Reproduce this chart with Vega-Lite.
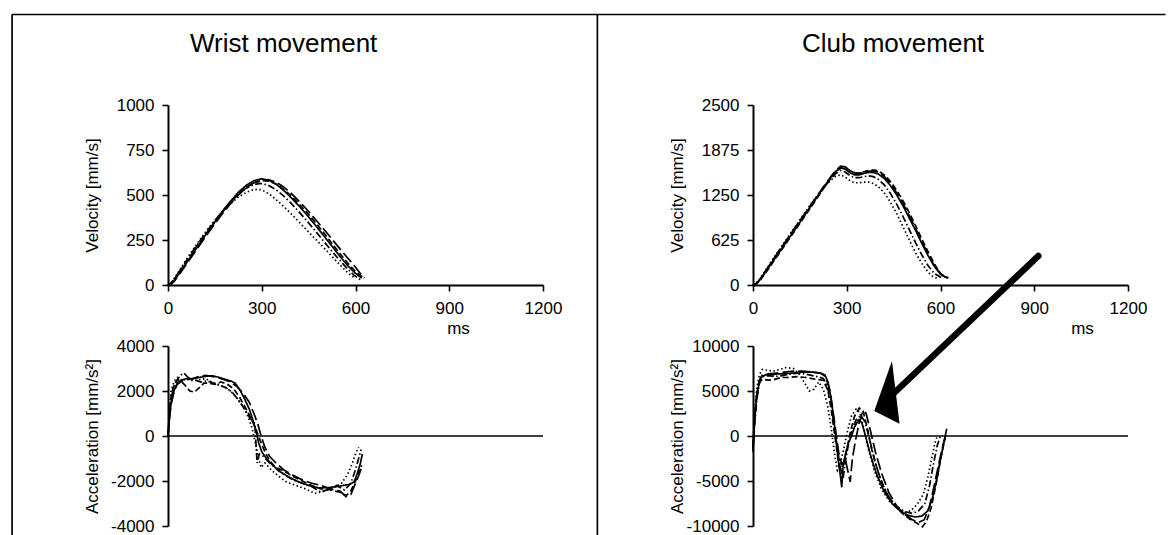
{
"$schema": "https://vega.github.io/schema/vega-lite/v6.json",
"padding": {"left": 11, "top": 13, "right": 0, "bottom": 0},
"background": "white",
"bounds": "flush",
"columns": 2,
"spacing": {"row": 61, "column": 210},
"resolve": {"scale": {"x": "independent", "y": "independent"}},
"datasets": {
"wv": [
{"s":"a","t":0,"v":0},{"s":"a","t":10,"v":8},{"s":"a","t":20,"v":25},{"s":"a","t":40,"v":75},{"s":"a","t":60,"v":125},{"s":"a","t":80,"v":175},{"s":"a","t":100,"v":228},{"s":"a","t":125,"v":290},{"s":"a","t":150,"v":350},{"s":"a","t":175,"v":410},{"s":"a","t":200,"v":465},{"s":"a","t":225,"v":515},{"s":"a","t":250,"v":553},{"s":"a","t":275,"v":580},{"s":"a","t":300,"v":590},{"s":"a","t":325,"v":580},{"s":"a","t":350,"v":555},{"s":"a","t":375,"v":518},{"s":"a","t":400,"v":475},{"s":"a","t":425,"v":428},{"s":"a","t":450,"v":378},{"s":"a","t":475,"v":325},{"s":"a","t":500,"v":270},{"s":"a","t":525,"v":215},{"s":"a","t":550,"v":160},{"s":"a","t":575,"v":108},{"s":"a","t":600,"v":65},{"s":"a","t":620,"v":38},
{"s":"b","t":0,"v":0},{"s":"b","t":10,"v":10},{"s":"b","t":20,"v":30},{"s":"b","t":40,"v":82},{"s":"b","t":60,"v":132},{"s":"b","t":80,"v":182},{"s":"b","t":100,"v":232},{"s":"b","t":125,"v":292},{"s":"b","t":150,"v":350},{"s":"b","t":175,"v":406},{"s":"b","t":200,"v":458},{"s":"b","t":225,"v":505},{"s":"b","t":250,"v":543},{"s":"b","t":275,"v":568},{"s":"b","t":300,"v":580},{"s":"b","t":325,"v":576},{"s":"b","t":350,"v":558},{"s":"b","t":375,"v":525},{"s":"b","t":400,"v":485},{"s":"b","t":425,"v":440},{"s":"b","t":450,"v":392},{"s":"b","t":475,"v":340},{"s":"b","t":500,"v":286},{"s":"b","t":525,"v":230},{"s":"b","t":550,"v":175},{"s":"b","t":575,"v":122},{"s":"b","t":600,"v":75},{"s":"b","t":625,"v":40},
{"s":"c","t":0,"v":0},{"s":"c","t":10,"v":14},{"s":"c","t":20,"v":36},{"s":"c","t":40,"v":90},{"s":"c","t":60,"v":145},{"s":"c","t":80,"v":197},{"s":"c","t":100,"v":247},{"s":"c","t":125,"v":305},{"s":"c","t":150,"v":360},{"s":"c","t":175,"v":410},{"s":"c","t":200,"v":452},{"s":"c","t":225,"v":488},{"s":"c","t":250,"v":514},{"s":"c","t":270,"v":528},{"s":"c","t":290,"v":532},{"s":"c","t":310,"v":520},{"s":"c","t":330,"v":497},{"s":"c","t":350,"v":468},{"s":"c","t":375,"v":428},{"s":"c","t":400,"v":385},{"s":"c","t":425,"v":340},{"s":"c","t":450,"v":294},{"s":"c","t":475,"v":250},{"s":"c","t":500,"v":205},{"s":"c","t":525,"v":158},{"s":"c","t":550,"v":112},{"s":"c","t":575,"v":68},{"s":"c","t":600,"v":35},
{"s":"d","t":0,"v":0},{"s":"d","t":10,"v":12},{"s":"d","t":20,"v":33},{"s":"d","t":40,"v":85},{"s":"d","t":60,"v":138},{"s":"d","t":80,"v":190},{"s":"d","t":100,"v":240},{"s":"d","t":125,"v":300},{"s":"d","t":150,"v":358},{"s":"d","t":175,"v":412},{"s":"d","t":200,"v":462},{"s":"d","t":225,"v":505},{"s":"d","t":250,"v":538},{"s":"d","t":275,"v":558},{"s":"d","t":295,"v":565},{"s":"d","t":320,"v":555},{"s":"d","t":345,"v":530},{"s":"d","t":370,"v":495},{"s":"d","t":395,"v":452},{"s":"d","t":420,"v":405},{"s":"d","t":445,"v":355},{"s":"d","t":470,"v":303},{"s":"d","t":495,"v":250},{"s":"d","t":520,"v":197},{"s":"d","t":545,"v":146},{"s":"d","t":570,"v":98},{"s":"d","t":595,"v":55},{"s":"d","t":615,"v":30},
{"s":"e","t":0,"v":0},{"s":"e","t":10,"v":6},{"s":"e","t":20,"v":20},{"s":"e","t":40,"v":68},{"s":"e","t":60,"v":118},{"s":"e","t":80,"v":168},{"s":"e","t":100,"v":218},{"s":"e","t":125,"v":280},{"s":"e","t":150,"v":340},{"s":"e","t":175,"v":398},{"s":"e","t":200,"v":452},{"s":"e","t":225,"v":500},{"s":"e","t":250,"v":540},{"s":"e","t":275,"v":568},{"s":"e","t":300,"v":583},{"s":"e","t":320,"v":585},{"s":"e","t":345,"v":572},{"s":"e","t":370,"v":545},{"s":"e","t":395,"v":508},{"s":"e","t":420,"v":465},{"s":"e","t":445,"v":418},{"s":"e","t":470,"v":368},{"s":"e","t":495,"v":317},{"s":"e","t":520,"v":265},{"s":"e","t":545,"v":212},{"s":"e","t":570,"v":160},{"s":"e","t":595,"v":110},{"s":"e","t":615,"v":65},{"s":"e","t":628,"v":38}
],
"cv": [
{"s":"a","t":0,"v":0},{"s":"a","t":10,"v":20},{"s":"a","t":20,"v":60},{"s":"a","t":40,"v":180},{"s":"a","t":60,"v":305},{"s":"a","t":80,"v":430},{"s":"a","t":100,"v":555},{"s":"a","t":125,"v":712},{"s":"a","t":150,"v":870},{"s":"a","t":175,"v":1030},{"s":"a","t":200,"v":1190},{"s":"a","t":225,"v":1350},{"s":"a","t":250,"v":1500},{"s":"a","t":265,"v":1580},{"s":"a","t":280,"v":1625},{"s":"a","t":295,"v":1610},{"s":"a","t":310,"v":1560},{"s":"a","t":325,"v":1530},{"s":"a","t":340,"v":1530},{"s":"a","t":355,"v":1550},{"s":"a","t":370,"v":1565},{"s":"a","t":385,"v":1562},{"s":"a","t":400,"v":1545},{"s":"a","t":420,"v":1480},{"s":"a","t":440,"v":1380},{"s":"a","t":460,"v":1250},{"s":"a","t":480,"v":1100},{"s":"a","t":500,"v":930},{"s":"a","t":520,"v":760},{"s":"a","t":540,"v":580},{"s":"a","t":560,"v":410},{"s":"a","t":580,"v":260},{"s":"a","t":600,"v":150},{"s":"a","t":615,"v":110},{"s":"a","t":625,"v":100},
{"s":"b","t":0,"v":0},{"s":"b","t":10,"v":15},{"s":"b","t":20,"v":50},{"s":"b","t":40,"v":165},{"s":"b","t":60,"v":290},{"s":"b","t":80,"v":415},{"s":"b","t":100,"v":540},{"s":"b","t":125,"v":698},{"s":"b","t":150,"v":856},{"s":"b","t":175,"v":1015},{"s":"b","t":200,"v":1175},{"s":"b","t":225,"v":1335},{"s":"b","t":250,"v":1490},{"s":"b","t":270,"v":1590},{"s":"b","t":285,"v":1640},{"s":"b","t":300,"v":1620},{"s":"b","t":315,"v":1575},{"s":"b","t":330,"v":1555},{"s":"b","t":345,"v":1560},{"s":"b","t":360,"v":1580},{"s":"b","t":375,"v":1595},{"s":"b","t":390,"v":1595},{"s":"b","t":405,"v":1575},{"s":"b","t":425,"v":1510},{"s":"b","t":445,"v":1410},{"s":"b","t":465,"v":1280},{"s":"b","t":485,"v":1130},{"s":"b","t":505,"v":960},{"s":"b","t":525,"v":780},{"s":"b","t":545,"v":595},{"s":"b","t":565,"v":420},{"s":"b","t":585,"v":260},{"s":"b","t":600,"v":160},{"s":"b","t":615,"v":110},{"s":"b","t":625,"v":100},
{"s":"c","t":0,"v":0},{"s":"c","t":10,"v":25},{"s":"c","t":20,"v":75},{"s":"c","t":40,"v":205},{"s":"c","t":60,"v":335},{"s":"c","t":80,"v":465},{"s":"c","t":100,"v":590},{"s":"c","t":125,"v":748},{"s":"c","t":150,"v":905},{"s":"c","t":175,"v":1060},{"s":"c","t":200,"v":1210},{"s":"c","t":225,"v":1350},{"s":"c","t":250,"v":1460},{"s":"c","t":265,"v":1510},{"s":"c","t":280,"v":1530},{"s":"c","t":295,"v":1500},{"s":"c","t":310,"v":1450},{"s":"c","t":325,"v":1420},{"s":"c","t":340,"v":1420},{"s":"c","t":355,"v":1430},{"s":"c","t":370,"v":1430},{"s":"c","t":385,"v":1410},{"s":"c","t":400,"v":1370},{"s":"c","t":420,"v":1280},{"s":"c","t":440,"v":1150},{"s":"c","t":460,"v":990},{"s":"c","t":480,"v":810},{"s":"c","t":500,"v":625},{"s":"c","t":520,"v":450},{"s":"c","t":540,"v":300},{"s":"c","t":560,"v":180},{"s":"c","t":575,"v":120},{"s":"c","t":590,"v":90},
{"s":"d","t":0,"v":0},{"s":"d","t":10,"v":18},{"s":"d","t":20,"v":58},{"s":"d","t":40,"v":185},{"s":"d","t":60,"v":312},{"s":"d","t":80,"v":438},{"s":"d","t":100,"v":562},{"s":"d","t":125,"v":718},{"s":"d","t":150,"v":875},{"s":"d","t":175,"v":1032},{"s":"d","t":200,"v":1190},{"s":"d","t":225,"v":1345},{"s":"d","t":250,"v":1480},{"s":"d","t":265,"v":1550},{"s":"d","t":280,"v":1590},{"s":"d","t":295,"v":1570},{"s":"d","t":310,"v":1520},{"s":"d","t":325,"v":1490},{"s":"d","t":340,"v":1490},{"s":"d","t":355,"v":1505},{"s":"d","t":370,"v":1515},{"s":"d","t":385,"v":1505},{"s":"d","t":400,"v":1470},{"s":"d","t":420,"v":1390},{"s":"d","t":440,"v":1270},{"s":"d","t":460,"v":1120},{"s":"d","t":480,"v":950},{"s":"d","t":500,"v":770},{"s":"d","t":520,"v":590},{"s":"d","t":540,"v":420},{"s":"d","t":560,"v":270},{"s":"d","t":580,"v":160},{"s":"d","t":600,"v":110},{"s":"d","t":610,"v":100},
{"s":"e","t":0,"v":0},{"s":"e","t":10,"v":22},{"s":"e","t":20,"v":65},{"s":"e","t":40,"v":195},{"s":"e","t":60,"v":325},{"s":"e","t":80,"v":455},{"s":"e","t":100,"v":580},{"s":"e","t":125,"v":738},{"s":"e","t":150,"v":895},{"s":"e","t":175,"v":1050},{"s":"e","t":200,"v":1205},{"s":"e","t":225,"v":1360},{"s":"e","t":250,"v":1510},{"s":"e","t":265,"v":1590},{"s":"e","t":280,"v":1650},{"s":"e","t":295,"v":1640},{"s":"e","t":310,"v":1590},{"s":"e","t":325,"v":1555},{"s":"e","t":340,"v":1550},{"s":"e","t":355,"v":1565},{"s":"e","t":370,"v":1580},{"s":"e","t":385,"v":1585},{"s":"e","t":400,"v":1570},{"s":"e","t":420,"v":1510},{"s":"e","t":440,"v":1410},{"s":"e","t":460,"v":1280},{"s":"e","t":480,"v":1130},{"s":"e","t":500,"v":965},{"s":"e","t":520,"v":790},{"s":"e","t":540,"v":605},{"s":"e","t":560,"v":430},{"s":"e","t":580,"v":270},{"s":"e","t":600,"v":160},{"s":"e","t":615,"v":110},{"s":"e","t":625,"v":95}
],
"wa": [
{"s":"a","t":0,"v":0},{"s":"a","t":5,"v":900},{"s":"a","t":10,"v":1500},{"s":"a","t":20,"v":2050},{"s":"a","t":30,"v":2350},{"s":"a","t":45,"v":2500},{"s":"a","t":60,"v":2550},{"s":"a","t":80,"v":2550},{"s":"a","t":100,"v":2600},{"s":"a","t":120,"v":2650},{"s":"a","t":140,"v":2680},{"s":"a","t":160,"v":2620},{"s":"a","t":180,"v":2530},{"s":"a","t":200,"v":2450},{"s":"a","t":215,"v":2350},{"s":"a","t":230,"v":2050},{"s":"a","t":245,"v":1650},{"s":"a","t":260,"v":1200},{"s":"a","t":272,"v":700},{"s":"a","t":282,"v":200},{"s":"a","t":290,"v":-300},{"s":"a","t":300,"v":-700},{"s":"a","t":315,"v":-1000},{"s":"a","t":335,"v":-1300},{"s":"a","t":360,"v":-1600},{"s":"a","t":390,"v":-1850},{"s":"a","t":420,"v":-2050},{"s":"a","t":450,"v":-2200},{"s":"a","t":480,"v":-2300},{"s":"a","t":510,"v":-2300},{"s":"a","t":540,"v":-2250},{"s":"a","t":560,"v":-2200},{"s":"a","t":580,"v":-2150},{"s":"a","t":595,"v":-2050},{"s":"a","t":605,"v":-1700},{"s":"a","t":615,"v":-1250},{"s":"a","t":622,"v":-800},
{"s":"b","t":0,"v":0},{"s":"b","t":5,"v":1100},{"s":"b","t":10,"v":1800},{"s":"b","t":20,"v":2300},{"s":"b","t":30,"v":2500},{"s":"b","t":40,"v":2450},{"s":"b","t":55,"v":2250},{"s":"b","t":70,"v":2000},{"s":"b","t":85,"v":1950},{"s":"b","t":100,"v":2150},{"s":"b","t":115,"v":2350},{"s":"b","t":130,"v":2350},{"s":"b","t":150,"v":2300},{"s":"b","t":170,"v":2400},{"s":"b","t":190,"v":2300},{"s":"b","t":210,"v":2100},{"s":"b","t":230,"v":1700},{"s":"b","t":250,"v":1200},{"s":"b","t":265,"v":800},{"s":"b","t":280,"v":350},{"s":"b","t":295,"v":-200},{"s":"b","t":310,"v":-700},{"s":"b","t":325,"v":-1100},{"s":"b","t":345,"v":-1400},{"s":"b","t":370,"v":-1550},{"s":"b","t":400,"v":-1800},{"s":"b","t":430,"v":-2000},{"s":"b","t":460,"v":-2200},{"s":"b","t":490,"v":-2350},{"s":"b","t":520,"v":-2400},{"s":"b","t":550,"v":-2500},{"s":"b","t":570,"v":-2650},{"s":"b","t":585,"v":-2450},{"s":"b","t":600,"v":-2000},{"s":"b","t":610,"v":-1600},{"s":"b","t":620,"v":-1300},
{"s":"c","t":0,"v":0},{"s":"c","t":5,"v":1300},{"s":"c","t":10,"v":2000},{"s":"c","t":20,"v":2450},{"s":"c","t":30,"v":2600},{"s":"c","t":45,"v":2450},{"s":"c","t":60,"v":2550},{"s":"c","t":80,"v":2450},{"s":"c","t":100,"v":2500},{"s":"c","t":120,"v":2550},{"s":"c","t":140,"v":2400},{"s":"c","t":160,"v":2300},{"s":"c","t":180,"v":2200},{"s":"c","t":200,"v":2000},{"s":"c","t":220,"v":1700},{"s":"c","t":240,"v":1300},{"s":"c","t":255,"v":900},{"s":"c","t":268,"v":400},{"s":"c","t":278,"v":-200},{"s":"c","t":288,"v":-900},{"s":"c","t":298,"v":-1400},{"s":"c","t":310,"v":-1200},{"s":"c","t":330,"v":-1500},{"s":"c","t":355,"v":-1800},{"s":"c","t":380,"v":-2050},{"s":"c","t":410,"v":-2200},{"s":"c","t":440,"v":-2350},{"s":"c","t":470,"v":-2550},{"s":"c","t":500,"v":-2450},{"s":"c","t":530,"v":-2300},{"s":"c","t":555,"v":-2100},{"s":"c","t":575,"v":-1700},{"s":"c","t":590,"v":-1200},{"s":"c","t":600,"v":-800},{"s":"c","t":610,"v":-500},
{"s":"d","t":0,"v":0},{"s":"d","t":5,"v":1000},{"s":"d","t":10,"v":1700},{"s":"d","t":20,"v":2200},{"s":"d","t":30,"v":2500},{"s":"d","t":40,"v":2700},{"s":"d","t":50,"v":2800},{"s":"d","t":65,"v":2600},{"s":"d","t":85,"v":2500},{"s":"d","t":105,"v":2400},{"s":"d","t":125,"v":2450},{"s":"d","t":145,"v":2350},{"s":"d","t":165,"v":2250},{"s":"d","t":185,"v":2150},{"s":"d","t":205,"v":1950},{"s":"d","t":225,"v":1600},{"s":"d","t":245,"v":1200},{"s":"d","t":262,"v":800},{"s":"d","t":278,"v":550},{"s":"d","t":285,"v":-1200},{"s":"d","t":292,"v":-800},{"s":"d","t":305,"v":-900},{"s":"d","t":325,"v":-1200},{"s":"d","t":350,"v":-1500},{"s":"d","t":375,"v":-1750},{"s":"d","t":400,"v":-1950},{"s":"d","t":430,"v":-2100},{"s":"d","t":460,"v":-2250},{"s":"d","t":490,"v":-2500},{"s":"d","t":515,"v":-2350},{"s":"d","t":540,"v":-2200},{"s":"d","t":565,"v":-2400},{"s":"d","t":585,"v":-2100},{"s":"d","t":600,"v":-1500},{"s":"d","t":612,"v":-900},{"s":"d","t":618,"v":-600},
{"s":"e","t":0,"v":0},{"s":"e","t":5,"v":800},{"s":"e","t":10,"v":1400},{"s":"e","t":20,"v":2000},{"s":"e","t":30,"v":2300},{"s":"e","t":45,"v":2450},{"s":"e","t":60,"v":2500},{"s":"e","t":80,"v":2550},{"s":"e","t":100,"v":2650},{"s":"e","t":120,"v":2700},{"s":"e","t":140,"v":2650},{"s":"e","t":160,"v":2600},{"s":"e","t":180,"v":2500},{"s":"e","t":200,"v":2400},{"s":"e","t":220,"v":2200},{"s":"e","t":240,"v":1900},{"s":"e","t":260,"v":1500},{"s":"e","t":275,"v":1000},{"s":"e","t":288,"v":500},{"s":"e","t":298,"v":0},{"s":"e","t":310,"v":-500},{"s":"e","t":325,"v":-900},{"s":"e","t":345,"v":-1200},{"s":"e","t":370,"v":-1500},{"s":"e","t":400,"v":-1750},{"s":"e","t":430,"v":-1950},{"s":"e","t":460,"v":-2100},{"s":"e","t":490,"v":-2200},{"s":"e","t":520,"v":-2350},{"s":"e","t":550,"v":-2450},{"s":"e","t":570,"v":-2700},{"s":"e","t":585,"v":-2600},{"s":"e","t":600,"v":-2100},{"s":"e","t":612,"v":-1700},{"s":"e","t":622,"v":-1300}
],
"ca": [
{"s":"a","t":0,"v":-1500},{"s":"a","t":5,"v":1500},{"s":"a","t":10,"v":3800},{"s":"a","t":18,"v":5600},{"s":"a","t":25,"v":6500},{"s":"a","t":40,"v":6800},{"s":"a","t":60,"v":6800},{"s":"a","t":80,"v":6900},{"s":"a","t":100,"v":6900},{"s":"a","t":130,"v":7000},{"s":"a","t":160,"v":7100},{"s":"a","t":190,"v":7100},{"s":"a","t":215,"v":7000},{"s":"a","t":230,"v":6800},{"s":"a","t":240,"v":6000},{"s":"a","t":250,"v":4200},{"s":"a","t":258,"v":2000},{"s":"a","t":265,"v":0},{"s":"a","t":272,"v":-2500},{"s":"a","t":280,"v":-4500},{"s":"a","t":284,"v":-5700},{"s":"a","t":288,"v":-3500},{"s":"a","t":296,"v":-2000},{"s":"a","t":305,"v":-800},{"s":"a","t":315,"v":0},{"s":"a","t":325,"v":1000},{"s":"a","t":338,"v":1800},{"s":"a","t":348,"v":1500},{"s":"a","t":360,"v":0},{"s":"a","t":375,"v":-2000},{"s":"a","t":395,"v":-4200},{"s":"a","t":420,"v":-6200},{"s":"a","t":445,"v":-7500},{"s":"a","t":470,"v":-8300},{"s":"a","t":495,"v":-8800},{"s":"a","t":520,"v":-9000},{"s":"a","t":540,"v":-8900},{"s":"a","t":560,"v":-8300},{"s":"a","t":575,"v":-6800},{"s":"a","t":590,"v":-4500},{"s":"a","t":600,"v":-2600},{"s":"a","t":612,"v":-500},{"s":"a","t":620,"v":800},
{"s":"b","t":0,"v":-1200},{"s":"b","t":5,"v":2000},{"s":"b","t":12,"v":4500},{"s":"b","t":20,"v":6000},{"s":"b","t":30,"v":6300},{"s":"b","t":50,"v":6200},{"s":"b","t":70,"v":6300},{"s":"b","t":90,"v":6500},{"s":"b","t":110,"v":6500},{"s":"b","t":140,"v":6600},{"s":"b","t":170,"v":6500},{"s":"b","t":200,"v":6300},{"s":"b","t":225,"v":6200},{"s":"b","t":240,"v":5000},{"s":"b","t":250,"v":3000},{"s":"b","t":260,"v":500},{"s":"b","t":270,"v":-2000},{"s":"b","t":278,"v":-3500},{"s":"b","t":290,"v":-3000},{"s":"b","t":300,"v":-1500},{"s":"b","t":312,"v":500},{"s":"b","t":325,"v":2200},{"s":"b","t":340,"v":3100},{"s":"b","t":352,"v":2800},{"s":"b","t":365,"v":1000},{"s":"b","t":380,"v":-1500},{"s":"b","t":400,"v":-4000},{"s":"b","t":425,"v":-6200},{"s":"b","t":450,"v":-7600},{"s":"b","t":475,"v":-8500},{"s":"b","t":500,"v":-9200},{"s":"b","t":525,"v":-9700},{"s":"b","t":542,"v":-10100},{"s":"b","t":555,"v":-9500},{"s":"b","t":570,"v":-8000},{"s":"b","t":585,"v":-5500},{"s":"b","t":598,"v":-3000},{"s":"b","t":610,"v":-1000},{"s":"b","t":618,"v":300},
{"s":"c","t":0,"v":-1000},{"s":"c","t":5,"v":2500},{"s":"c","t":12,"v":5200},{"s":"c","t":20,"v":6800},{"s":"c","t":30,"v":7400},{"s":"c","t":45,"v":7300},{"s":"c","t":65,"v":7200},{"s":"c","t":85,"v":7400},{"s":"c","t":105,"v":7600},{"s":"c","t":130,"v":7500},{"s":"c","t":150,"v":6800},{"s":"c","t":165,"v":5900},{"s":"c","t":180,"v":5000},{"s":"c","t":195,"v":5200},{"s":"c","t":210,"v":6000},{"s":"c","t":225,"v":5200},{"s":"c","t":238,"v":3500},{"s":"c","t":250,"v":1000},{"s":"c","t":260,"v":-1800},{"s":"c","t":270,"v":-3800},{"s":"c","t":278,"v":-3200},{"s":"c","t":290,"v":-1500},{"s":"c","t":302,"v":500},{"s":"c","t":315,"v":2200},{"s":"c","t":330,"v":3000},{"s":"c","t":342,"v":2600},{"s":"c","t":355,"v":800},{"s":"c","t":370,"v":-1600},{"s":"c","t":390,"v":-4000},{"s":"c","t":410,"v":-5800},{"s":"c","t":435,"v":-7200},{"s":"c","t":460,"v":-8000},{"s":"c","t":485,"v":-8500},{"s":"c","t":505,"v":-8300},{"s":"c","t":525,"v":-7600},{"s":"c","t":545,"v":-6500},{"s":"c","t":560,"v":-4500},{"s":"c","t":572,"v":-2500},{"s":"c","t":582,"v":-800},{"s":"c","t":590,"v":0},
{"s":"d","t":0,"v":-1800},{"s":"d","t":5,"v":1200},{"s":"d","t":12,"v":4000},{"s":"d","t":20,"v":5800},{"s":"d","t":30,"v":6600},{"s":"d","t":50,"v":6700},{"s":"d","t":70,"v":6600},{"s":"d","t":95,"v":6700},{"s":"d","t":120,"v":6900},{"s":"d","t":150,"v":7000},{"s":"d","t":180,"v":6800},{"s":"d","t":205,"v":6600},{"s":"d","t":225,"v":6400},{"s":"d","t":238,"v":5500},{"s":"d","t":250,"v":3500},{"s":"d","t":260,"v":1000},{"s":"d","t":270,"v":-1500},{"s":"d","t":280,"v":-3500},{"s":"d","t":288,"v":-4800},{"s":"d","t":295,"v":-3000},{"s":"d","t":305,"v":-1000},{"s":"d","t":318,"v":700},{"s":"d","t":330,"v":1800},{"s":"d","t":345,"v":2300},{"s":"d","t":358,"v":1600},{"s":"d","t":372,"v":-200},{"s":"d","t":390,"v":-2800},{"s":"d","t":410,"v":-5000},{"s":"d","t":435,"v":-6800},{"s":"d","t":460,"v":-7800},{"s":"d","t":485,"v":-8400},{"s":"d","t":510,"v":-8600},{"s":"d","t":530,"v":-8300},{"s":"d","t":550,"v":-7500},{"s":"d","t":565,"v":-5500},{"s":"d","t":578,"v":-3000},{"s":"d","t":590,"v":-1000},{"s":"d","t":600,"v":0},
{"s":"e","t":0,"v":-1500},{"s":"e","t":5,"v":1800},{"s":"e","t":12,"v":4600},{"s":"e","t":20,"v":6200},{"s":"e","t":30,"v":6800},{"s":"e","t":50,"v":6900},{"s":"e","t":75,"v":7000},{"s":"e","t":100,"v":7100},{"s":"e","t":130,"v":7200},{"s":"e","t":160,"v":7200},{"s":"e","t":190,"v":7100},{"s":"e","t":215,"v":7000},{"s":"e","t":232,"v":6600},{"s":"e","t":245,"v":5200},{"s":"e","t":255,"v":3000},{"s":"e","t":265,"v":500},{"s":"e","t":275,"v":-2000},{"s":"e","t":285,"v":-3200},{"s":"e","t":295,"v":-2500},{"s":"e","t":303,"v":-3800},{"s":"e","t":311,"v":-5100},{"s":"e","t":318,"v":-2500},{"s":"e","t":328,"v":-500},{"s":"e","t":340,"v":1500},{"s":"e","t":352,"v":2800},{"s":"e","t":362,"v":2500},{"s":"e","t":375,"v":700},{"s":"e","t":392,"v":-1800},{"s":"e","t":412,"v":-4200},{"s":"e","t":435,"v":-6300},{"s":"e","t":460,"v":-7800},{"s":"e","t":485,"v":-8700},{"s":"e","t":510,"v":-9300},{"s":"e","t":530,"v":-9600},{"s":"e","t":548,"v":-9300},{"s":"e","t":565,"v":-7800},{"s":"e","t":580,"v":-5500},{"s":"e","t":595,"v":-3000},{"s":"e","t":608,"v":-1000},{"s":"e","t":616,"v":0}
],
"frame": [
{"t":-499,"v":18733,"t2":3192,"v2":18733},
{"t":-499,"v":18733,"t2":-499,"v2":-4400},
{"t":1374,"v":18733,"t2":1374,"v2":-4400}
],
"arrowline": [{"t":913,"v":20000,"t2":438,"v2":4333}],
"arrowhead": [{"t":388,"v":2778}]
},
"concat": [
{
"width": 375, "height": 180,
"title": {"text": "Wrist movement", "dx": 22},
"data": {"name": "wv"},
"mark": {"type": "line", "color": "black", "strokeWidth": 1.7},
"encoding": {
"x": {"field": "t", "type": "quantitative", "scale": {"domain": [0, 1200], "nice": false},
"axis": {"values": [0, 300, 600, 900, 1200], "title": "ms", "titleX": 290, "titleY": 48, "titleBaseline": "alphabetic", "titleAlign": "center", "titleFontSize": 17, "labelPadding": 9, "labelFlush": false, "labelExpr": "'' + datum.value"}},
"y": {"field": "v", "type": "quantitative", "scale": {"domain": [0, 1000], "nice": false},
"axis": {"values": [0, 250, 500, 750, 1000], "title": "Velocity [mm/s]", "titleX": -76, "titleY": 90, "titleAngle": -90, "titleBaseline": "middle", "titleAlign": "center", "labelExpr": "'' + datum.value"}},
"strokeDash": {"field": "s", "type": "nominal", "scale": {"domain": ["a","b","c","d","e"], "range": [[1,0],[6,3],[1.5,2.5],[7,2.5,1.5,2.5],[12,4]]}, "legend": null}
}
},
{
"width": 375, "height": 180,
"title": {"text": "Club movement", "dx": 49},
"data": {"name": "cv"},
"mark": {"type": "line", "color": "black", "strokeWidth": 1.7},
"encoding": {
"x": {"field": "t", "type": "quantitative", "scale": {"domain": [0, 1200], "nice": false},
"axis": {"values": [0, 300, 600, 900, 1200], "title": "ms", "titleX": 329, "titleY": 48, "titleBaseline": "alphabetic", "titleAlign": "center", "titleFontSize": 17, "labelPadding": 9, "labelFlush": false, "labelExpr": "'' + datum.value"}},
"y": {"field": "v", "type": "quantitative", "scale": {"domain": [0, 2500], "nice": false},
"axis": {"values": [0, 625, 1250, 1875, 2500], "title": "Velocity [mm/s]", "titleX": -76, "titleY": 90, "titleAngle": -90, "titleBaseline": "middle", "titleAlign": "center", "labelExpr": "'' + datum.value"}},
"strokeDash": {"field": "s", "type": "nominal", "scale": {"domain": ["a","b","c","d","e"], "range": [[1,0],[6,3],[1.5,2.5],[7,2.5,1.5,2.5],[12,4]]}, "legend": null}
}
},
{
"width": 375, "height": 180,
"layer": [
{
"data": {"name": "wa"},
"mark": {"type": "line", "color": "black", "strokeWidth": 1.7},
"encoding": {
"x": {"field": "t", "type": "quantitative", "scale": {"domain": [0, 1200], "nice": false}, "axis": null},
"y": {"field": "v", "type": "quantitative", "scale": {"domain": [-4000, 4000], "nice": false},
"axis": {"values": [-4000, -2000, 0, 2000, 4000], "title": "Acceleration [mm/s²]", "titleX": -76, "titleY": 90, "titleAngle": -90, "titleBaseline": "middle", "titleAlign": "center", "labelExpr": "'' + datum.value"}},
"strokeDash": {"field": "s", "type": "nominal", "scale": {"domain": ["a","b","c","d","e"], "range": [[1,0],[6,3],[1.5,2.5],[7,2.5,1.5,2.5],[12,4]]}, "legend": null}
}
},
{
"data": {"values": [{}]},
"mark": {"type": "rule", "color": "black", "strokeWidth": 1.6},
"encoding": {"y": {"datum": 0}}
},
{
"data": {"name": "frame"},
"mark": {"type": "rule", "color": "black", "strokeWidth": 1.7, "clip": false},
"encoding": {
"x": {"field": "t", "type": "quantitative", "scale": {"domain": [0, 1200], "nice": false}},
"x2": {"field": "t2"},
"y": {"field": "v", "type": "quantitative", "scale": {"domain": [-4000, 4000], "nice": false}},
"y2": {"field": "v2"}
}
}
]
},
{
"width": 375, "height": 180,
"layer": [
{
"data": {"name": "ca"},
"mark": {"type": "line", "color": "black", "strokeWidth": 1.7},
"encoding": {
"x": {"field": "t", "type": "quantitative", "scale": {"domain": [0, 1200], "nice": false}, "axis": null},
"y": {"field": "v", "type": "quantitative", "scale": {"domain": [-10000, 10000], "nice": false},
"axis": {"values": [-10000, -5000, 0, 5000, 10000], "title": "Acceleration [mm/s²]", "titleX": -76, "titleY": 90, "titleAngle": -90, "titleBaseline": "middle", "titleAlign": "center", "labelExpr": "'' + datum.value"}},
"strokeDash": {"field": "s", "type": "nominal", "scale": {"domain": ["a","b","c","d","e"], "range": [[1,0],[6,3],[1.5,2.5],[7,2.5,1.5,2.5],[12,4]]}, "legend": null}
}
},
{
"data": {"values": [{}]},
"mark": {"type": "rule", "color": "black", "strokeWidth": 1.6},
"encoding": {"y": {"datum": 0}}
},
{
"data": {"name": "arrowline"},
"mark": {"type": "rule", "color": "black", "strokeWidth": 6.5, "strokeCap": "round", "clip": false},
"encoding": {
"x": {"field": "t", "type": "quantitative", "scale": {"domain": [0, 1200], "nice": false}},
"x2": {"field": "t2"},
"y": {"field": "v", "type": "quantitative", "scale": {"domain": [-10000, 10000], "nice": false}},
"y2": {"field": "v2"}
}
},
{
"data": {"name": "arrowhead"},
"mark": {"type": "point", "shape": "M0,0L0.354,-1L0.506,0.254Z", "size": 10000, "filled": true, "color": "black", "opacity": 1, "strokeWidth": 0, "clip": false},
"encoding": {
"x": {"field": "t", "type": "quantitative", "scale": {"domain": [0, 1200], "nice": false}},
"y": {"field": "v", "type": "quantitative", "scale": {"domain": [-10000, 10000], "nice": false}}
}
}
]
}
],
"config": {
"font": "Liberation Sans",
"view": {"stroke": null},
"axis": {"grid": false, "domainColor": "black", "domainWidth": 2, "tickColor": "black", "tickWidth": 1.6, "tickSize": 6, "labelColor": "black", "labelFontSize": 17, "labelFont": "Liberation Sans", "labelPadding": 8, "labelOverlap": false, "titleColor": "black", "titleFont": "Liberation Sans", "titleFontWeight": "normal", "titleFontSize": 17},
"title": {"fontSize": 26, "fontWeight": "normal", "font": "Liberation Sans", "color": "black", "anchor": "start", "frame": "group", "baseline": "alphabetic", "offset": 39}
}
}
